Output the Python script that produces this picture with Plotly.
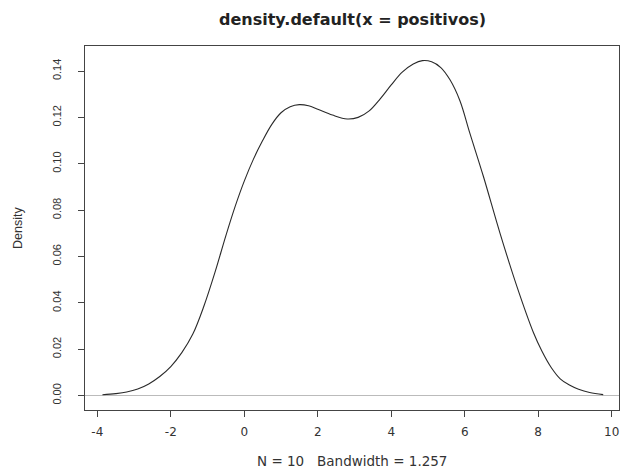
import plotly.graph_objects as go

# Density curve
dens_x = [-3.86, -3.50, -3.20, -2.90, -2.60, -2.30, -2.00, -1.70, -1.40, -1.10,
          -0.80, -0.50, -0.25, 0.00, 0.25, 0.50, 0.75, 1.00, 1.25, 1.50,
          1.75, 2.00, 2.40, 2.80, 3.10, 3.40, 3.70, 4.00, 4.30, 4.60,
          4.85, 5.10, 5.35, 5.60, 5.87, 6.14, 6.51, 6.96, 7.42, 7.87,
          8.10, 8.35, 8.60, 8.85, 9.10, 9.40, 9.77]
dens_y = [0.0003, 0.0008, 0.0015, 0.0028, 0.0050, 0.0082, 0.0125, 0.0185, 0.0265, 0.0385,
          0.0530, 0.0690, 0.0815, 0.0925, 0.1020, 0.1100, 0.1170, 0.1220, 0.1246, 0.1255,
          0.1250, 0.1235, 0.1210, 0.1193, 0.1200, 0.1228, 0.1280, 0.1340, 0.1395, 0.1430,
          0.1445, 0.1440, 0.1415, 0.1362, 0.1272, 0.1132, 0.0945, 0.0701, 0.0471, 0.0272,
          0.0192, 0.0122, 0.0072, 0.0045, 0.0027, 0.0013, 0.0004]

x_ticks = [-4, -2, 0, 2, 4, 6, 8, 10]
y_ticks = [0.00, 0.02, 0.04, 0.06, 0.08, 0.10, 0.12, 0.14]

title_text = "density.default(x = positivos)"
xlab_text = "N = 10   Bandwidth = 1.257"
ylab_text = "Density"

FONT = "Liberation Sans, Arial, sans-serif"
WIDE = "DejaVu Sans, Verdana, sans-serif"
INK = "#333333"

fig = go.Figure()
fig.add_trace(go.Scatter(x=dens_x, y=dens_y, mode="lines",
                         line=dict(color="#2a2a2a", width=1.1, shape="spline", smoothing=1.0),
                         showlegend=False, hoverinfo="skip"))

fig.update_layout(
    width=621, height=470,
    margin=dict(l=85, r=2, t=46, b=60),
    paper_bgcolor="white", plot_bgcolor="white",
    font=dict(family=FONT, size=11, color=INK),
    showlegend=False,
)

fig.update_xaxes(
    range=[-4.335, 10.20], tickvals=x_ticks, ticktext=[str(v) for v in x_ticks],
    showgrid=False, zeroline=False,
    showline=True, linecolor="#444444", linewidth=1, mirror=True,
    ticks="outside", ticklen=6, tickcolor="#444444", tickwidth=1,
    ticklabelstandoff=5, ticklabeloverflow="allow",
    tickfont=dict(family=WIDE, size=12, color=INK),
)
fig.update_yaxes(
    range=[-0.00625, 0.1508], tickvals=y_ticks, ticktext=["%.2f" % v for v in y_ticks],
    showgrid=False,
    zeroline=True, zerolinecolor="#bbbbbb", zerolinewidth=1,
    showline=True, linecolor="#444444", linewidth=1, mirror=True,
    ticks="outside", ticklen=6, tickcolor="#444444", tickwidth=1,
    tickangle=-90, ticklabelstandoff=13, ticklabeloverflow="allow",
    tickfont=dict(family=FONT, size=11, color=INK),
)

fig.add_annotation(text="<b>" + title_text + "</b>", xref="paper", yref="paper",
                   x=0.5, y=(410.5 - 19) / 364.5, xanchor="center", yanchor="middle",
                   showarrow=False, font=dict(family=WIDE, size=16, color="#222222"))
fig.add_annotation(text=xlab_text, xref="paper", yref="paper",
                   x=0.5, y=(410.5 - 462) / 364.5, xanchor="center", yanchor="middle",
                   showarrow=False, font=dict(family=WIDE, size=13.5, color=INK))
fig.add_annotation(text=ylab_text, xref="paper", yref="paper",
                   x=(18 - 85) / 534, y=0.5, xanchor="center", yanchor="middle",
                   textangle=-90, showarrow=False, font=dict(family=FONT, size=12.5, color=INK))

fig.write_html(
    "out.html",
    config={"displayModeBar": False},
    post_script="document.body.style.margin='0';document.body.style.overflow='hidden';",
)
